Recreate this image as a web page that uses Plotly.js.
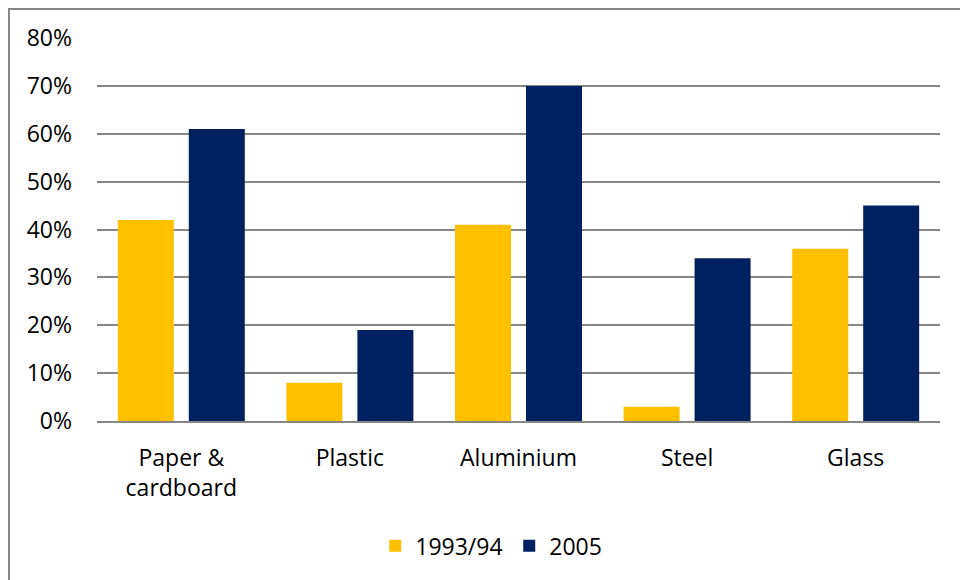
<!DOCTYPE html>
<html>
<head>
<meta charset="utf-8">
<script src="https://cdn.plot.ly/plotly-3.0.1.min.js"></script>
<style>
  html, body { margin: 0; padding: 0; background: #fff; overflow: hidden; }
  #frame { position: absolute; left: 8px; top: 8px; width: 1200px; height: 900px;
           border-left: 2px solid #878787; border-top: 2px solid #878787; }
  #chart { position: absolute; left: 0; top: 0; width: 960px; height: 580px; }
</style>
</head>
<body>
<div id="frame"></div>
<div id="chart"></div>
<script>
// Recycling rates by material
const categories = ['Paper &<br>cardboard', 'Plastic', 'Aluminium', 'Steel', 'Glass'];
const rates1993 = [42, 8, 41, 3, 36];
const rates2005 = [61, 19, 70, 34, 45];
const seriesNames = ['1993/94', '2005'];
const yTicks = [0, 10, 20, 30, 40, 50, 60, 70, 80];

const FONT = '"Open Sans", "Noto Sans", sans-serif';

const traces = [
  { type: 'bar', name: seriesNames[0], x: categories, y: rates1993,
    marker: { color: '#FFC000' }, hoverinfo: 'skip' },
  { type: 'bar', name: seriesNames[1], x: categories, y: rates2005,
    marker: { color: '#002060' }, hoverinfo: 'skip' }
];

const layout = {
  width: 960, height: 580,
  margin: { l: 97, r: 20, t: 38, b: 159 },
  paper_bgcolor: 'rgba(0,0,0,0)', plot_bgcolor: 'rgba(0,0,0,0)',
  font: { family: FONT, size: 23, color: '#000' },
  barmode: 'group',
  bargap: 0.158,
  bargroupgap: 0.211,
  showlegend: true,
  legend: { orientation: 'h', x: 0.489, xanchor: 'center', y: -0.326, yanchor: 'middle',
            entrywidth: 89, entrywidthmode: 'pixels',
            font: { family: FONT, size: 23 }, itemclick: false },
  xaxis: {
    type: 'category', showgrid: false, zeroline: false,
    showline: true, linecolor: '#868686', linewidth: 2,
    ticks: '', ticklabelstandoff: 15, tickfont: { family: FONT, size: 23 }
  },
  yaxis: {
    range: [0, 80], tickvals: yTicks, ticktext: yTicks.map(v => v + '%'),
    showgrid: true, gridcolor: '#868686', gridwidth: 2,
    zeroline: false, showline: false, ticks: '',
    ticklabelstandoff: 24, tickfont: { family: FONT, size: 23 }
  }
};

Plotly.newPlot('chart', traces, layout, { displayModeBar: false, staticPlot: true });
</script>
</body>
</html>
